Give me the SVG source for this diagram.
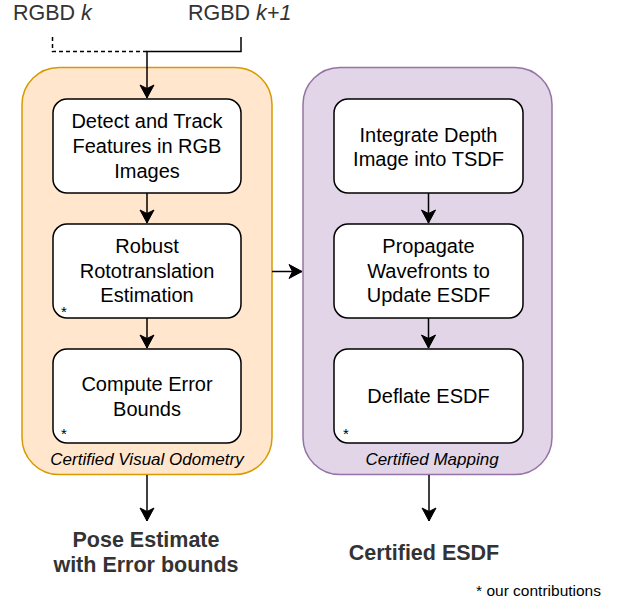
<svg xmlns="http://www.w3.org/2000/svg" width="618" height="601" viewBox="0 0 618 601">
<defs>
<marker id="arr" markerUnits="userSpaceOnUse" markerWidth="16" markerHeight="16" viewBox="-14 -8 16 16" refX="0" refY="0" orient="auto">
<path d="M0,0 L-13,-7 L-9.5,0 L-13,7 Z" fill="#000" stroke="#000" stroke-width="1"/>
</marker>
<style>
text{font-family:"Liberation Sans",Arial,Helvetica,sans-serif}
.box{fill:#fff;stroke:#000;stroke-width:1.5}
.t{font-size:20px;fill:#000;text-anchor:middle}
.star{font-size:15px;fill:#000}
.cap{font-size:17px;font-style:italic;fill:#000;text-anchor:middle}
.out{font-size:21.5px;font-weight:bold;fill:#333;text-anchor:middle}
.in{font-size:21.5px;fill:#333}
.c{fill:none;stroke:#000;stroke-width:1.5}
</style>
</defs>
<g id="vo-container">
<rect x="22" y="67.5" width="250" height="407" rx="37" fill="#ffe6cc" stroke="#d79b00" stroke-width="1.5"/>
<text class="cap" x="147" y="465">Certified Visual Odometry</text>
</g>
<g id="map-container">
<rect x="303" y="67.5" width="249" height="407" rx="37" fill="#e1d5e7" stroke="#9673a6" stroke-width="1.5"/>
<text class="cap" x="432" y="465">Certified Mapping</text>
</g>
<g id="detect">
<rect class="box" x="53" y="99" width="188" height="94" rx="14"/>
<text class="t" x="147" y="128">Detect and Track</text>
<text class="t" x="147" y="153">Features in RGB</text>
<text class="t" x="147" y="178">Images</text>
</g>
<g id="robust">
<rect class="box" x="53" y="224" width="188" height="94" rx="14"/>
<text class="t" x="147" y="253">Robust</text>
<text class="t" x="147" y="278">Rototranslation</text>
<text class="t" x="147" y="302">Estimation</text>
<text class="star" x="61" y="317">*</text>
</g>
<g id="bounds">
<rect class="box" x="53" y="349" width="188" height="94" rx="14"/>
<text class="t" x="147" y="391">Compute Error</text>
<text class="t" x="147" y="416">Bounds</text>
<text class="star" x="61" y="439">*</text>
</g>
<g id="integrate">
<rect class="box" x="334" y="99" width="189" height="94" rx="14"/>
<text class="t" x="428.5" y="141.5">Integrate Depth</text>
<text class="t" x="428.5" y="166">Image into TSDF</text>
</g>
<g id="propagate">
<rect class="box" x="334" y="224" width="189" height="94" rx="14"/>
<text class="t" x="428.5" y="253">Propagate</text>
<text class="t" x="428.5" y="278">Wavefronts to</text>
<text class="t" x="428.5" y="302">Update ESDF</text>
</g>
<g id="deflate">
<rect class="box" x="334" y="349" width="189" height="94" rx="14"/>
<text class="t" x="428.5" y="403">Deflate ESDF</text>
<text class="star" x="343" y="439">*</text>
</g>
<g id="input-k"><text class="in" x="13" y="19.5">RGBD <tspan font-style="italic">k</tspan></text></g>
<g id="input-k1"><text class="in" x="188" y="19.5">RGBD <tspan font-style="italic">k+1</tspan></text></g>
<g id="output-pose">
<text class="out" x="146" y="547">Pose Estimate</text>
<text class="out" x="146" y="572">with Error bounds</text>
</g>
<g id="output-esdf"><text class="out" x="424" y="559.5">Certified ESDF</text></g>
<g id="note"><text x="601" y="596" font-size="15.5px" fill="#000" text-anchor="end">* our contributions</text></g>
<g id="connectors">
<path class="c" d="M52.5,37 V51.5 H147" stroke-dasharray="4,3"/>
<path class="c" d="M241,37 V51.5 H147 V98" marker-end="url(#arr)"/>
<path class="c" d="M147,193 V223" marker-end="url(#arr)"/>
<path class="c" d="M147,318 V348" marker-end="url(#arr)"/>
<path class="c" d="M428.5,193 V223" marker-end="url(#arr)"/>
<path class="c" d="M428.5,318 V348" marker-end="url(#arr)"/>
<path class="c" d="M272,271.5 H302" marker-end="url(#arr)"/>
<path class="c" d="M147,475 V521" marker-end="url(#arr)"/>
<path class="c" d="M429,475 V521" marker-end="url(#arr)"/>
</g>
</svg>
